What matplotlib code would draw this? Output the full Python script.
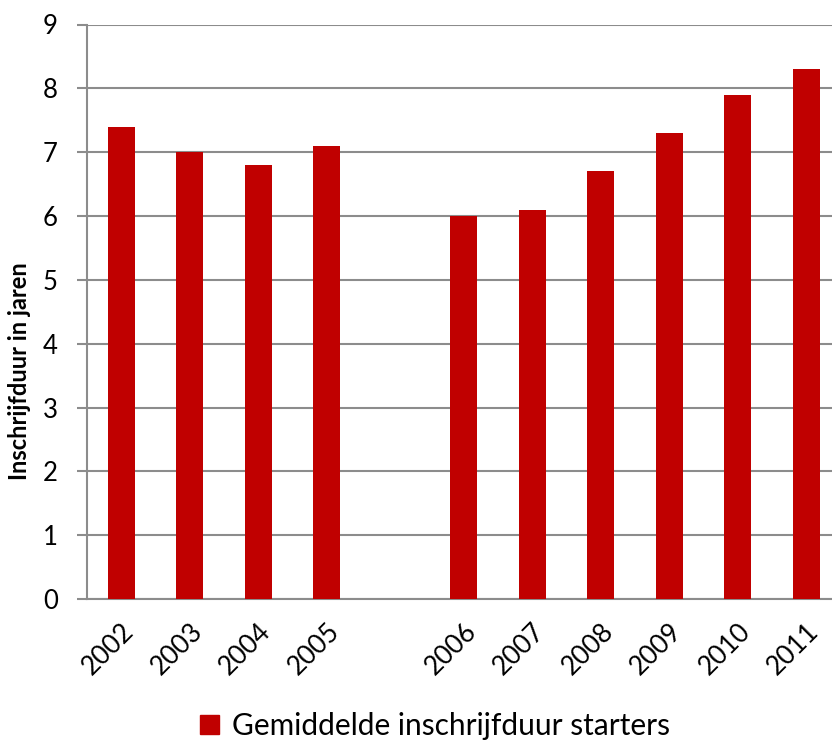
import numpy as np
import matplotlib
matplotlib.use("Agg")
import matplotlib.pyplot as plt
from matplotlib.patches import Patch

categories = ["2002", "2003", "2004", "2005", "", "2006", "2007", "2008", "2009", "2010", "2011"]
values = [7.4, 7.0, 6.8, 7.1, np.nan, 6.0, 6.1, 6.7, 7.3, 7.9, 8.3]
yticks = [0, 1, 2, 3, 4, 5, 6, 7, 8, 9]
ylabel = "Inschrijfduur in jaren"
legend_label = "Gemiddelde inschrijfduur starters"

plt.rcParams['font.family'] = ['Lato', 'DejaVu Sans']

W, H = 832, 740
fig = plt.figure(figsize=(W / 100, H / 100), dpi=100)
left, right, top, bottom = 87, 832, 24.5, 599
ax = fig.add_axes([left / W, 1 - bottom / H, (right - left) / W, (bottom - top) / H])

x = np.arange(len(categories))
red = "#C00000"
ax.bar(x, values, width=0.4, color=red, zorder=3)

slot = 68.5
ax.set_xlim(-0.5, -0.5 + (right - left) / slot)
ax.set_ylim(0, 9)
ax.set_yticks(yticks)
ax.set_yticklabels([str(t) for t in yticks], fontsize=18.5)
ax.set_xticks(x)
ax.set_xticklabels(categories, rotation=45, ha="right", rotation_mode="anchor", fontsize=19)

grid_c = "#8C8C8C"
ax.yaxis.grid(True, color=grid_c, linewidth=1.5, zorder=0)
ax.xaxis.grid(False)
for s in ["top", "right"]:
    ax.spines[s].set_visible(False)
ax.spines["left"].set_color(grid_c)
ax.spines["left"].set_linewidth(1.5)
ax.spines["bottom"].set_color(grid_c)
ax.spines["bottom"].set_linewidth(1.5)
ax.tick_params(axis="y", length=7, width=1.5, color=grid_c, pad=14)
ax.tick_params(axis="x", length=0, pad=14)

fig.text(20 / W, 1 - 371 / H, ylabel, rotation=90, ha="center", va="center",
         fontsize=17, fontweight="bold")

handle = Patch(facecolor=red, edgecolor=red)
fig.legend([handle], [legend_label], loc="center", bbox_to_anchor=(435 / W, 1 - 726 / H),
           frameon=False, fontsize=21.5, handlelength=0.62, handleheight=0.62, handletextpad=0.45,
           borderpad=0)

fig.savefig("out.png", dpi=100)
